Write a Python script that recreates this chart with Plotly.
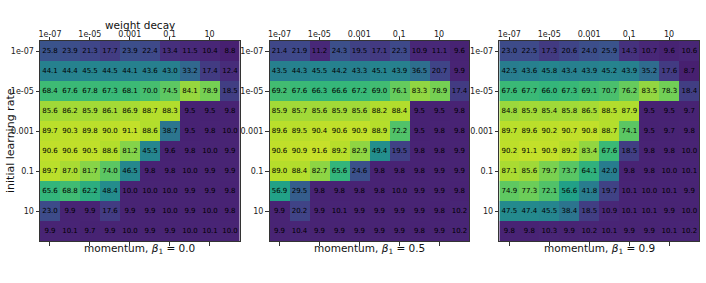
import plotly.graph_objects as go

weight_decay = ["1e-07", "1e-06", "1e-05", "0.0001", "0.001", "0.01", "0.1", "1", "10", "100"]
learning_rate = ["1e-07", "1e-06", "1e-05", "0.0001", "0.001", "0.01", "0.1", "1", "10", "100"]
tick_labels = ["1e-07", "1e-05", "0.001", "0.1", "10"]
tick_idx = [0, 2, 4, 6, 8]

momentum_labels = ["0.0", "0.5", "0.9"]

acc_m00 = [
    [25.8, 23.9, 21.3, 17.7, 23.9, 22.4, 13.4, 11.5, 10.4, 8.8],
    [44.1, 44.4, 45.5, 44.5, 44.1, 43.6, 43.0, 33.2, 17.4, 12.4],
    [68.4, 67.6, 67.8, 67.3, 68.1, 70.0, 74.5, 84.1, 78.9, 18.5],
    [85.6, 86.2, 85.9, 86.1, 86.9, 88.7, 88.3, 9.5, 9.5, 9.8],
    [89.7, 90.3, 89.8, 90.0, 91.1, 88.6, 38.7, 9.5, 9.8, 10.0],
    [90.6, 90.6, 90.5, 88.6, 81.2, 45.5, 9.6, 9.8, 10.0, 9.9],
    [89.7, 87.0, 81.7, 74.0, 46.5, 9.8, 9.8, 10.0, 9.9, 9.9],
    [65.6, 68.8, 62.2, 48.4, 10.0, 10.0, 10.0, 9.9, 9.9, 9.8],
    [23.0, 9.9, 9.9, 17.6, 9.9, 9.9, 10.0, 9.9, 10.0, 9.8],
    [9.9, 10.1, 9.7, 9.9, 10.0, 9.9, 9.9, 10.0, 10.1, 10.0],
]
acc_m05 = [
    [21.4, 21.9, 11.2, 24.3, 19.5, 17.1, 22.3, 10.9, 11.1, 9.6],
    [43.5, 44.3, 45.5, 44.2, 43.3, 45.1, 43.9, 36.5, 20.7, 9.9],
    [69.2, 67.6, 66.3, 66.6, 67.2, 69.0, 76.1, 83.3, 78.9, 17.4],
    [85.9, 85.7, 85.6, 85.9, 85.6, 88.2, 88.4, 9.5, 9.5, 9.8],
    [89.6, 89.5, 90.4, 90.6, 90.9, 88.9, 72.2, 9.5, 9.8, 9.8],
    [90.6, 90.9, 91.6, 89.2, 82.9, 49.4, 19.5, 9.8, 9.8, 9.9],
    [89.0, 88.4, 82.7, 65.6, 24.6, 9.8, 9.8, 9.8, 9.9, 9.9],
    [56.9, 29.5, 9.8, 9.8, 9.8, 9.8, 10.0, 9.9, 9.9, 9.8],
    [9.9, 20.2, 9.9, 10.1, 9.9, 9.9, 9.9, 9.9, 9.8, 10.2],
    [9.9, 10.4, 9.9, 9.9, 9.9, 9.9, 9.9, 9.8, 9.9, 10.2],
]
acc_m09 = [
    [23.0, 22.5, 17.3, 20.6, 24.0, 25.9, 14.3, 10.7, 9.6, 10.6],
    [42.5, 43.6, 45.8, 43.4, 43.9, 45.2, 43.9, 35.2, 17.6, 8.7],
    [67.6, 67.7, 66.0, 67.3, 69.1, 70.7, 76.2, 83.5, 78.3, 18.4],
    [84.8, 85.9, 85.4, 85.8, 86.5, 88.5, 87.9, 9.5, 9.5, 9.7],
    [89.7, 89.6, 90.2, 90.7, 90.8, 88.7, 74.1, 9.5, 9.7, 9.8],
    [90.2, 91.1, 90.9, 89.2, 83.4, 67.6, 18.5, 9.8, 9.8, 10.0],
    [87.1, 85.6, 79.7, 73.7, 64.1, 42.0, 9.8, 9.8, 10.0, 10.1],
    [74.9, 77.3, 72.1, 56.6, 41.8, 19.7, 10.1, 10.0, 10.1, 9.9],
    [47.5, 47.4, 45.5, 38.4, 18.5, 10.9, 10.1, 10.1, 9.9, 10.0],
    [9.8, 9.8, 10.3, 9.9, 10.2, 10.1, 9.9, 9.9, 10.1, 10.2],
]

panels = [acc_m00, acc_m05, acc_m09]

W, H = 706, 283
x_px = [(40, 239.5), (269.5, 469), (499.3, 699)]
y_top, y_bot = 41, 241
y_dom = [1 - y_bot / H, 1 - y_top / H]
FONT = "DejaVu Sans"
LINE = "#333333"

fig = go.Figure()
for i, z in enumerate(panels):
    xa = "x" if i == 0 else f"x{i+1}"
    ya = "y" if i == 0 else f"y{i+1}"
    fig.add_trace(go.Heatmap(
        z=z, x=list(range(len(weight_decay))), y=list(range(len(learning_rate))),
        colorscale="Viridis", zmin=0, zmax=100, showscale=False,
        texttemplate="%{z:.1f}", textfont=dict(size=7, color="black", family=FONT),
        xgap=0, ygap=0, xaxis=xa, yaxis=ya,
        customdata=[[f"wd={w}, lr={l}" for w in weight_decay] for l in learning_rate],
        hovertemplate="%{customdata}: %{z}<extra></extra>",
    ))
    sfx = "" if i == 0 else str(i + 1)
    fig.layout["xaxis" + sfx] = dict(
        domain=[x_px[i][0] / W, x_px[i][1] / W], anchor=ya, side="top",
        range=[-0.5, 9.5], tickvals=tick_idx, ticktext=tick_labels,
        ticks="outside", ticklen=3.5, tickwidth=1, tickcolor=LINE,
        showline=True, linecolor=LINE, linewidth=1, mirror="ticks",
        showgrid=False, zeroline=False, automargin=False,
        ticklabelstandoff=-4,
        tickfont=dict(size=8, family=FONT, color="#222"),
    )
    fig.layout["yaxis" + sfx] = dict(
        domain=y_dom, anchor=xa, range=[9.5, -0.5],
        tickvals=tick_idx, ticktext=tick_labels,
        ticks="outside", ticklen=3.5, tickwidth=1, tickcolor=LINE,
        showline=True, linecolor=LINE, linewidth=1, mirror=True,
        showgrid=False, zeroline=False, automargin=False,
        tickfont=dict(size=8, family=FONT, color="#222"),
    )
    cx = (x_px[i][0] + x_px[i][1]) / 2 / W
    fig.add_annotation(
        x=cx, y=1 - 249 / H, xref="paper", yref="paper",
        text=f"momentum, <i>β</i><sub>1</sub> = {momentum_labels[i]}",
        showarrow=False, xanchor="center", yanchor="middle",
        font=dict(size=10.5, family=FONT, color="#111"),
    )

fig.add_annotation(
    x=(x_px[0][0] + x_px[0][1]) / 2 / W, y=1 - 25.5 / H, xref="paper", yref="paper",
    text="weight decay", showarrow=False, xanchor="center", yanchor="middle",
    font=dict(size=10.5, family=FONT, color="#111"),
)
fig.add_annotation(
    x=10 / W, y=1 - 141 / H, xref="paper", yref="paper",
    text="initial learning rate", showarrow=False, textangle=-90,
    xanchor="center", yanchor="middle",
    font=dict(size=11, family=FONT, color="#111"),
)

fig.update_layout(
    width=W, height=H, margin=dict(l=0, r=0, t=0, b=0),
    paper_bgcolor="white", plot_bgcolor="white",
    font=dict(family=FONT),
)
fig.write_html(
    "out.html",
    config={"displayModeBar": False},
    post_script="document.body.style.margin='0';document.body.style.overflow='hidden';",
)
